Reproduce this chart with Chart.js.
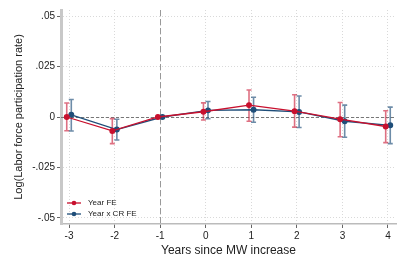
<!DOCTYPE html>
<html>
<head>
<meta charset="utf-8">
<script src="https://cdn.jsdelivr.net/npm/chart.js@4/dist/chart.umd.min.js"></script>
<style>
  html, body { margin: 0; padding: 0; background: #fff; }
  #wrap { width: 407px; height: 271px; }
</style>
</head>
<body>
<div id="wrap"><canvas id="myChart"></canvas></div>
<script>
// event-study estimates
const years = [-3, -2, -1, 0, 1, 2, 3, 4];

const yearFE   = [0.0000, -0.0069, 0, 0.0026, 0.0059, 0.0029, -0.0011, -0.0047];
const yearFELo = [-0.0068, -0.0132, 0, -0.0015, -0.0021, -0.0050, -0.0098, -0.0127];
const yearFEHi = [0.0069, -0.0008, 0, 0.0070, 0.0134, 0.0110, 0.0072, 0.0031];

const crFE   = [0.0011, -0.0062, 0, 0.0033, 0.0036, 0.0025, -0.0021, -0.0041];
const crFELo = [-0.0069, -0.0114, 0, -0.0009, -0.0026, -0.0052, -0.0100, -0.0132];
const crFEHi = [0.0087, -0.0011, 0, 0.0077, 0.0098, 0.0104, 0.0059, 0.0049];

const yTicks = [-0.05, -0.025, 0, 0.025, 0.05];
const yTickLabels = ["-.05", "-.025", "0", ".025", ".05"];
const seriesNames = ["Year FE", "Year x CR FE"];
const eventYear = -1;

const RED = "#c8102e";
const BLUE = "#1f4e79";
const jitter = 0.05; // small horizontal dodge between the two series

let ctx = document.getElementById("myChart").getContext("2d");

Chart.defaults.font.family = "'Liberation Sans', Arial, sans-serif";
Chart.defaults.color = "#222";

function pts(vals, shift) {
  return years.map((x, i) => ({ x: x + shift, y: vals[i], lo: 0, hi: 0 }));
}
let redPts = pts(yearFE, -jitter);
redPts.forEach((p, i) => { p.lo = yearFELo[i]; p.hi = yearFEHi[i]; });
let bluePts = pts(crFE, jitter);
bluePts.forEach((p, i) => { p.lo = crFELo[i]; p.hi = crFEHi[i]; });

const refLines = {
  id: "refLines",
  beforeDatasetsDraw(chart) {
    const c = chart.ctx, a = chart.chartArea;
    const xs = chart.scales.x, ys = chart.scales.y;
    c.save();
    // zero line
    c.strokeStyle = "#777";
    c.lineWidth = 1;
    c.setLineDash([3, 2]);
    let y0 = Math.round(ys.getPixelForValue(0)) + 0.5;
    c.beginPath(); c.moveTo(a.left, y0); c.lineTo(a.right, y0); c.stroke();
    // event line
    c.strokeStyle = "#999";
    c.setLineDash([6, 3]);
    let xe = Math.round(xs.getPixelForValue(eventYear)) + 0.5;
    c.beginPath(); c.moveTo(xe, a.top); c.lineTo(xe, a.bottom); c.stroke();
    c.restore();

    // confidence intervals
    chart.data.datasets.forEach(ds => {
      c.save();
      c.strokeStyle = ds.ciColor;
      c.lineWidth = 1.6;
      ds.data.forEach(p => {
        let x = xs.getPixelForValue(p.x);
        let yl = ys.getPixelForValue(p.lo);
        let yh = ys.getPixelForValue(p.hi);
        c.beginPath();
        c.moveTo(x, yl); c.lineTo(x, yh);
        c.moveTo(x - 2.5, yl); c.lineTo(x + 2.5, yl);
        c.moveTo(x - 2.5, yh); c.lineTo(x + 2.5, yh);
        c.stroke();
      });
      c.restore();
    });
  }
};

const boxLegend = {
  id: "boxLegend",
  afterDraw(chart) {
    const c = chart.ctx, a = chart.chartArea;
    c.save();
    c.font = "8px 'Liberation Sans', Arial, sans-serif";
    c.textBaseline = "middle";
    chart.data.datasets.forEach((ds, i) => {
      let y = a.bottom - 21 + i * 11;
      let x0 = a.left + 6;
      c.strokeStyle = ds.borderColor;
      c.lineWidth = 1.3;
      c.beginPath(); c.moveTo(x0, y); c.lineTo(x0 + 14, y); c.stroke();
      c.fillStyle = ds.borderColor;
      c.beginPath(); c.arc(x0 + 7, y, 2.3, 0, Math.PI * 2); c.fill();
      c.fillStyle = "#222";
      c.fillText(ds.label, x0 + 21, y);
    });
    c.restore();
  }
};

let esChart = new Chart(ctx, {
  type: "line",
  data: {
    datasets: [{
      label: seriesNames[0],
      data: redPts,
      borderColor: RED,
      backgroundColor: RED,
      ciColor: "rgba(200, 16, 46, 0.6)",
      borderWidth: 1.3,
      pointRadius: 2.3,
      pointHoverRadius: 2.3,
      tension: 0
    }, {
      label: seriesNames[1],
      data: bluePts,
      borderColor: BLUE,
      backgroundColor: BLUE,
      ciColor: "rgba(31, 78, 121, 0.65)",
      borderWidth: 1.3,
      pointRadius: 2.3,
      pointHoverRadius: 2.3,
      tension: 0
    }]
  },
  options: {
    responsive: true,
    maintainAspectRatio: false,
    animation: false,
    layout: { padding: { top: 10, right: 11, left: 0, bottom: 0 } },
    plugins: {
      legend: { display: false },
      tooltip: { enabled: false }
    },
    scales: {
      x: {
        type: "linear",
        min: -3.176,
        max: 4.176,
        afterBuildTicks: s => { s.ticks = years.map(v => ({ value: v })); },
        afterFit: s => { s.height = 47; },
        ticks: {
          font: { size: 10 },
          color: "#222",
          padding: 2,
          maxRotation: 0,
          callback: v => String(v)
        },
        grid: {
          color: "#d9d9d9",
          tickColor: "#666",
          tickLength: 4,
          lineWidth: 1
        },
        border: { color: "#bbb", width: 1.5, dash: [1, 2] },
        title: {
          display: true,
          text: "Years since MW increase",
          font: { size: 12 },
          color: "#222",
          padding: { top: 0, bottom: 13 }
        }
      },
      y: {
        min: -0.053,
        max: 0.053,
        afterBuildTicks: s => { s.ticks = yTicks.map(v => ({ value: v })); },
        afterFit: s => { s.width = 61; },
        ticks: {
          font: { size: 10 },
          color: "#222",
          padding: 2,
          callback: (v, i) => yTickLabels[i]
        },
        grid: {
          color: "#d9d9d9",
          tickColor: "#666",
          tickLength: 4,
          lineWidth: 1
        },
        border: { color: "#c8c8c8", width: 3, dash: [1, 2] },
        title: {
          display: true,
          text: "Log(Labor force participation rate)",
          font: { size: 11 },
          color: "#222",
          padding: { top: 12, bottom: 0 }
        }
      }
    }
  },
  plugins: [refLines, boxLegend]
});
</script>
</body>
</html>
